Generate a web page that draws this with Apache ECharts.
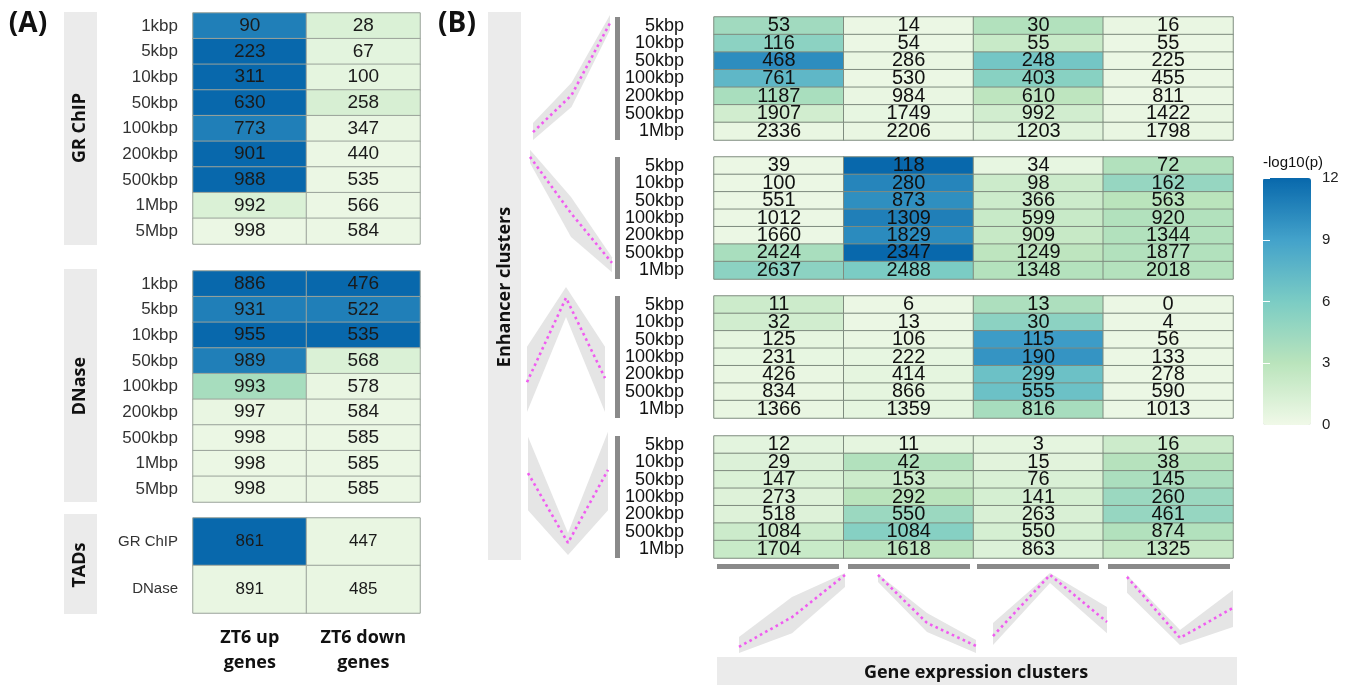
<!DOCTYPE html>
<html><head><meta charset="utf-8">
<script src="https://cdn.jsdelivr.net/npm/echarts@6/dist/echarts.min.js"></script>
<style>html,body{margin:0;padding:0;background:#fff}#c{width:1349px;height:685px}</style>
</head><body><div id="c"></div>
<script>
// ---------------- DATA ----------------
const distA = ['1kbp','5kbp','10kbp','50kbp','100kbp','200kbp','500kbp','1Mbp','5Mbp'];
const distB = ['5kbp','10kbp','50kbp','100kbp','200kbp','500kbp','1Mbp'];
const geneSetsA = ['ZT6 up\ngenes','ZT6 down\ngenes'];
const tadRows = ['GR ChIP','DNase'];
const exprClusters = ['Up','Down','Peak','Dip'];
const timePoints = ['T1','T2','T3'];
const colorTicks = [0,3,6,9,12];

// Panel A: GR ChIP
const grUpCounts   = [90,223,311,630,773,901,988,992,998];
const grDownCounts = [28,67,100,258,347,440,535,566,584];
const grUpLogP     = [10.8,12,12,12,10.8,12,12,1.2,0.3];
const grDownLogP   = [1.2,0.7,0.6,1.4,0.4,0.3,0.3,0.3,0.3];
// Panel A: DNase
const dnUpCounts   = [886,931,955,989,993,997,998,998,998];
const dnDownCounts = [476,522,535,568,578,584,585,585,585];
const dnUpLogP     = [12,10.8,12,10.8,3.9,0.4,0.3,0.3,0.3];
const dnDownLogP   = [12,10.8,12,1.2,0.4,0.3,0.3,0.3,0.3];
// Panel A: TADs
const tadUpCounts   = [861,891];
const tadDownCounts = [447,485];
const tadUpLogP     = [12,0.4];
const tadDownLogP   = [0.4,0.4];

// Panel B: rows = distances, columns = gene expression clusters
const enh1Counts = [[53,14,30,16],[116,54,55,55],[468,286,248,225],[761,530,403,455],[1187,984,610,811],[1907,1749,992,1422],[2336,2206,1203,1798]];
const enh1LogP   = [[4.2,0.3,3.4,0.4],[5.2,0.3,2.2,0.3],[10.1,0.4,6.4,0.3],[7.5,0.3,5.4,0.3],[3.8,0.4,2.8,0.3],[1.7,0.5,1.7,0.4],[0.4,0.4,0.9,0.4]];
const enh2Counts = [[39,118,34,72],[100,280,98,162],[551,873,366,563],[1012,1309,599,920],[1660,1829,909,1344],[2424,2347,1249,1877],[2637,2488,1348,2018]];
const enh2LogP   = [[0.3,12,0.5,3.4],[0.3,10.5,2.0,4.7],[0.3,10.0,2.0,3.0],[0.3,10.8,2.2,3.4],[0.3,10.2,2.3,3.4],[3.8,12,2.8,3.4],[5.2,6.0,3.3,3.3]];
const enh3Counts = [[11,6,13,0],[32,13,30,4],[125,106,115,56],[231,222,190,133],[426,414,299,278],[834,866,555,590],[1366,1359,816,1013]];
const enh3LogP   = [[2.0,0.3,3.6,0.3],[1.7,0.3,5.2,0.3],[0.6,0.4,9.3,0.3],[0.5,0.5,9.7,0.3],[0.4,0.6,6.8,0.3],[0.4,0.6,6.8,0.3],[0.4,0.6,3.9,0.3]];
const enh4Counts = [[12,11,3,16],[29,42,15,38],[147,153,76,145],[273,292,141,260],[518,550,263,461],[1084,1084,550,874],[1704,1618,863,1325]];
const enh4LogP   = [[0.7,0.6,0.6,2.0],[1.1,3.4,0.8,3.2],[1.2,2.0,1.3,3.7],[1.0,3.0,1.5,4.5],[1.0,4.5,1.3,4.7],[2.0,5.5,1.5,3.4],[2.2,2.8,1.1,2.3]];

// Cluster profiles (standardised level at three time points): mean, lower, upper
const enhProf1Mean = [-1.23,-0.39,1.25], enhProf1Lo = [-1.41,-0.66,1.09], enhProf1Hi = [-1.02,-0.11,1.43];
const enhProf2Mean = [1.23,-0.05,-1.18],  enhProf2Lo = [1.09,-0.59,-1.39], enhProf2Hi = [1.39,0.32,-1.05];
const enhProf3Mean = [-0.71,1.15,-0.62],  enhProf3Lo = [-1.37,0.73,-1.37], enhProf3Hi = [0.07,1.39,0.07];
const enhProf4Mean = [0.44,-1.10,0.51],   enhProf4Lo = [-0.38,-1.37,-0.38], enhProf4Hi = [1.24,-0.88,1.35];
const geneProf1Mean = [-1.06,-0.13,1.19], geneProf1Lo = [-1.25,-0.63,0.81], geneProf1Hi = [-0.75,0.50,1.25];
const geneProf2Mean = [1.19,-0.31,-1.03], geneProf2Lo = [0.97,-0.59,-1.25], geneProf2Hi = [1.22,0.00,-0.84];
const geneProf3Mean = [-0.72,1.19,-0.28], geneProf3Lo = [-1.00,0.94,-0.63], geneProf3Hi = [-0.31,1.25,0.19];
const geneProf4Mean = [1.13,-0.78,0.16],  geneProf4Lo = [0.63,-1.00,-0.44], geneProf4Hi = [1.19,-0.53,0.72];

// ---------------- BUILD ----------------
const SANS = '"Liberation Sans", Arial, Helvetica, sans-serif';
const BOLD = '"Open Sans", "DejaVu Sans", sans-serif';
const grids = [], xAxes = [], yAxes = [], series = [], heatIdx = [];

function addGrid(g){ grids.push(Object.assign({containLabel:false, outerBoundsMode:'none'}, g)); return grids.length-1; }

function addHeat(o){
  const gi = addGrid({left:o.left, top:o.top, width:o.width, height:o.height});
  xAxes.push({type:'category', gridIndex:gi, data:o.cols, show:!!o.xLabel, position:'bottom',
    axisLine:{show:false}, axisTick:{show:false}, splitLine:{show:false},
    axisLabel: o.xLabel || {show:false}});
  yAxes.push({type:'category', gridIndex:gi, data:o.rows, inverse:true,
    axisLine:{show:false}, axisTick:{show:false}, splitLine:{show:false},
    axisLabel:{show:true, interval:0, margin:o.rowMargin, fontSize:o.rowSize, fontFamily:SANS, color:o.rowColor}});
  const data = [];
  for (let r=0;r<o.rows.length;r++) for (let c=0;c<o.cols.length;c++)
    data.push([c, r, o.logp[r][c], o.counts[r][c]]);
  heatIdx.push(series.length);
  series.push({type:'heatmap', xAxisIndex:xAxes.length-1, yAxisIndex:yAxes.length-1, data,
    label:{show:true, formatter:p=>String(p.data[3]), fontSize:o.numSize, fontFamily:SANS, color:o.numColor},
    itemStyle:{borderColor:o.border, borderWidth:1}, emphasis:{disabled:true}, silent:true, progressive:0});
}

function zip(a,b){ return a.map((v,i)=>[v,b[i]]); }

let profCount = 0;
function addProfile(left, top, width, height, mean, lo, hi){
  const gi = addGrid({left, top, width, height});
  xAxes.push({type:'category', gridIndex:gi, data:timePoints, boundaryGap:false, show:false});
  yAxes.push({type:'value', gridIndex:gi, min:-1.5, max:1.5, show:false});
  const xi = xAxes.length-1, yi = yAxes.length-1, st = 'band'+(profCount++);
  series.push({type:'line', xAxisIndex:xi, yAxisIndex:yi, data:lo, stack:st, stackStrategy:'all',
    symbol:'none', lineStyle:{opacity:0}, silent:true, animation:false});
  series.push({type:'line', xAxisIndex:xi, yAxisIndex:yi, data:hi.map((h,i)=>h-lo[i]), stack:st, stackStrategy:'all',
    symbol:'none', lineStyle:{opacity:0}, areaStyle:{color:'#e5e5e5', opacity:1}, silent:true, animation:false});
  series.push({type:'line', xAxisIndex:xi, yAxisIndex:yi, data:mean, symbol:'none', silent:true,
    lineStyle:{color:'#f05cf0', width:2.6, type:[2.6,3.4]}, z:5, animation:false});
}

// Panel A heatmaps
const aCommon = {left:193, width:227, cols:geneSetsA, rowMargin:15, rowSize:17, rowColor:'#333',
  numSize:19, numColor:'#1a1a1a', border:'#9aa39a'};
addHeat(Object.assign({}, aCommon, {top:13, height:231, rows:distA, counts:zip(grUpCounts,grDownCounts), logp:zip(grUpLogP,grDownLogP)}));
addHeat(Object.assign({}, aCommon, {top:271, height:231, rows:distA, counts:zip(dnUpCounts,dnDownCounts), logp:zip(dnUpLogP,dnDownLogP)}));
addHeat(Object.assign({}, aCommon, {top:518, height:95, rows:tadRows, counts:zip(tadUpCounts,tadDownCounts), logp:zip(tadUpLogP,tadDownLogP),
  rowSize:15, numSize:17,
  xLabel:{show:true, interval:0, margin:12, fontFamily:BOLD, fontWeight:'bold', fontSize:18, lineHeight:25, color:'#111'}}));

// Panel B heatmaps
const bCommon = {left:714, width:519, cols:exprClusters, rowMargin:30, rowSize:18, rowColor:'#111',
  numSize:20, numColor:'#111', border:'#7f8c7f', rows:distB};
addHeat(Object.assign({}, bCommon, {top:17, height:123, counts:enh1Counts, logp:enh1LogP}));
addHeat(Object.assign({}, bCommon, {top:157, height:122, counts:enh2Counts, logp:enh2LogP}));
addHeat(Object.assign({}, bCommon, {top:296, height:122, counts:enh3Counts, logp:enh3LogP}));
addHeat(Object.assign({}, bCommon, {top:436, height:122, counts:enh4Counts, logp:enh4LogP}));

// Profiles
addProfile(533, 12, 77, 132, enhProf1Mean, enhProf1Lo, enhProf1Hi);
addProfile(530, 145, 82, 132, enhProf2Mean, enhProf2Lo, enhProf2Hi);
addProfile(527, 282, 78, 136, enhProf3Mean, enhProf3Lo, enhProf3Hi);
addProfile(528, 425, 80, 136, enhProf4Mean, enhProf4Lo, enhProf4Hi);
addProfile(739, 565, 106, 96, geneProf1Mean, geneProf1Lo, geneProf1Hi);
addProfile(878, 565, 98, 96, geneProf2Mean, geneProf2Lo, geneProf2Hi);
addProfile(993, 565, 114, 96, geneProf3Mean, geneProf3Lo, geneProf3Hi);
addProfile(1127, 565, 106, 96, geneProf4Mean, geneProf4Lo, geneProf4Hi);

// Colour-bar tick axis
const cbGrid = addGrid({left:1263, top:178, width:48, height:247});
xAxes.push({type:'value', gridIndex:cbGrid, min:0, max:1, show:false});
yAxes.push({type:'value', gridIndex:cbGrid, min:colorTicks[0], max:colorTicks[colorTicks.length-1], interval:3, position:'right', z:10,
  axisLine:{show:false}, splitLine:{show:false},
  axisTick:{show:true, inside:true, length:7, lineStyle:{color:'#ffffff', width:1}},
  axisLabel:{show:true, margin:11, fontSize:15, fontFamily:SANS, color:'#222'}});
yAxes.push({type:'value', gridIndex:cbGrid, min:colorTicks[0], max:colorTicks[colorTicks.length-1], interval:3, position:'left', z:10,
  axisLine:{show:false}, splitLine:{show:false},
  axisTick:{show:true, inside:true, length:7, lineStyle:{color:'#ffffff', width:1}},
  axisLabel:{show:false}});

// Decorations
const STRIP = '#ebebeb', BAR = '#8a8a8a';
const g = [];
function rect(x,y,w,h,fill){ g.push({type:'rect', shape:{x,y,width:w,height:h}, style:{fill}, silent:true, z:0}); }
function text(t,x,y,font,opts){ g.push(Object.assign({type:'text', x, y, silent:true, z:10,
  style:{text:t, font, fill:'#111', textAlign:'center', textVerticalAlign:'middle'}}, opts||{})); }
rect(64,12,33,233,STRIP); rect(64,269,33,233,STRIP); rect(64,514,33,100,STRIP);
rect(488,12,33,548,STRIP); rect(717,657,520,28,STRIP);
rect(615,17,5,123,BAR); rect(615,157,5,122,BAR); rect(615,296,5,122,BAR); rect(615,436,5,122,BAR);
rect(717,564,122,5,BAR); rect(848,564,122,5,BAR); rect(977,564,122,5,BAR); rect(1108,564,122,5,BAR);
text('GR ChIP',80,128,'bold 18px "Open Sans"',{rotation:Math.PI/2});
text('DNase',80,386,'bold 18px "Open Sans"',{rotation:Math.PI/2});
text('TADs',80,565,'bold 18px "Open Sans"',{rotation:Math.PI/2});
text('Enhancer clusters',505,287,'bold 18px "Open Sans"',{rotation:Math.PI/2});
text('Gene expression clusters',976,673,'bold 18px "Open Sans"');
text('(A)',28,24,'bold 28px "Open Sans"');
text('(B)',457,24,'bold 28px "Open Sans"');
text('-log10(p)',1293,163,'15px "Liberation Sans"');

const chart = echarts.init(document.getElementById('c'), null, {renderer:'canvas'});
chart.setOption({
  animation:false,
  backgroundColor:'#ffffff',
  grid:grids, xAxis:xAxes, yAxis:yAxes, series,
  visualMap:[{type:'continuous', min:0, max:12, dimension:2, seriesIndex:heatIdx,
    left:1263, top:178, itemWidth:48, itemHeight:247, padding:0, calculable:false, hoverLink:false,
    inRange:{color:['#f0f9e8','#bae4bc','#7bccc4','#43a2ca','#0868ac']}}],
  graphic:{elements:g}
});
</script></body></html>
